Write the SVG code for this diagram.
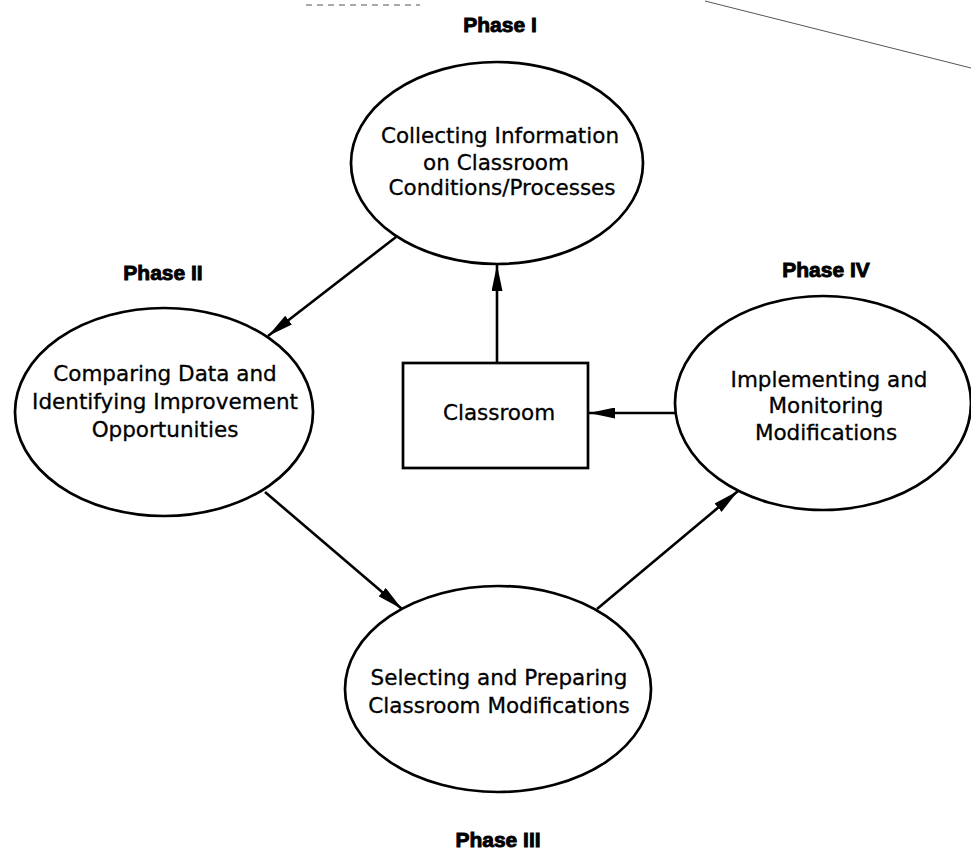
<svg xmlns="http://www.w3.org/2000/svg" width="971" height="852" viewBox="0 0 971 852">
<style>
.node{fill:#fff;stroke:#000;stroke-width:2.7}
.t{font-family:"DejaVu Sans",sans-serif;font-size:21.5px;fill:#000;stroke:#000;stroke-width:0.3;text-anchor:middle}
.ph{font-family:"Liberation Sans",Arial,sans-serif;font-weight:bold;font-size:21px;fill:#000;stroke:#000;stroke-width:0.9;text-anchor:middle}
.edge{stroke:#000;stroke-width:2.6;fill:none;marker-end:url(#ah)}
.art{stroke:#555;stroke-width:1;fill:none}
</style>
<defs>
<marker id="ah" markerUnits="userSpaceOnUse" markerWidth="26" markerHeight="11" refX="26" refY="5.5" orient="auto">
<path d="M0,0 L26,5.5 L0,11 z" fill="#000"/>
</marker>
</defs>
<rect width="971" height="852" fill="#fff"/>
<g id="artifacts">
<path class="art" d="M705,1 L971,68"/>
<path class="art" stroke-dasharray="6,5" d="M306,5 L420,5"/>
</g>
<g id="connectors">
<line class="edge" x1="396" y1="237" x2="268" y2="336"/>
<line class="edge" x1="265" y1="492" x2="402" y2="609"/>
<line class="edge" x1="597" y1="609" x2="738" y2="491"/>
<line class="edge" x1="675" y1="413" x2="589" y2="413"/>
<line class="edge" x1="497" y1="363" x2="497" y2="265"/>
</g>
<g id="phase1">
<text class="ph" x="500" y="32">Phase I</text>
<ellipse class="node" cx="497" cy="163" rx="146" ry="101"/>
<text class="t" x="500" y="143">Collecting Information</text>
<text class="t" x="496" y="170">on Classroom</text>
<text class="t" x="502" y="195">Conditions/Processes</text>
</g>
<g id="phase2">
<text class="ph" x="163" y="280">Phase II</text>
<ellipse class="node" cx="164" cy="412" rx="149" ry="104"/>
<text class="t" x="165" y="381">Comparing Data and</text>
<text class="t" x="165" y="409">Identifying Improvement</text>
<text class="t" x="165" y="437">Opportunities</text>
</g>
<g id="phase3">
<ellipse class="node" cx="498" cy="689" rx="153" ry="103"/>
<text class="t" x="499" y="685">Selecting and Preparing</text>
<text class="t" x="499" y="713">Classroom Modifications</text>
<text class="ph" x="498" y="847">Phase III</text>
</g>
<g id="phase4">
<text class="ph" x="826" y="277">Phase IV</text>
<ellipse class="node" cx="823" cy="403" rx="148" ry="107"/>
<text class="t" x="829" y="387">Implementing and</text>
<text class="t" x="826" y="413">Monitoring</text>
<text class="t" x="826" y="440">Modifications</text>
</g>
<g id="classroom">
<rect class="node" x="403" y="363" width="185" height="105"/>
<text class="t" x="499" y="420">Classroom</text>
</g>
</svg>
